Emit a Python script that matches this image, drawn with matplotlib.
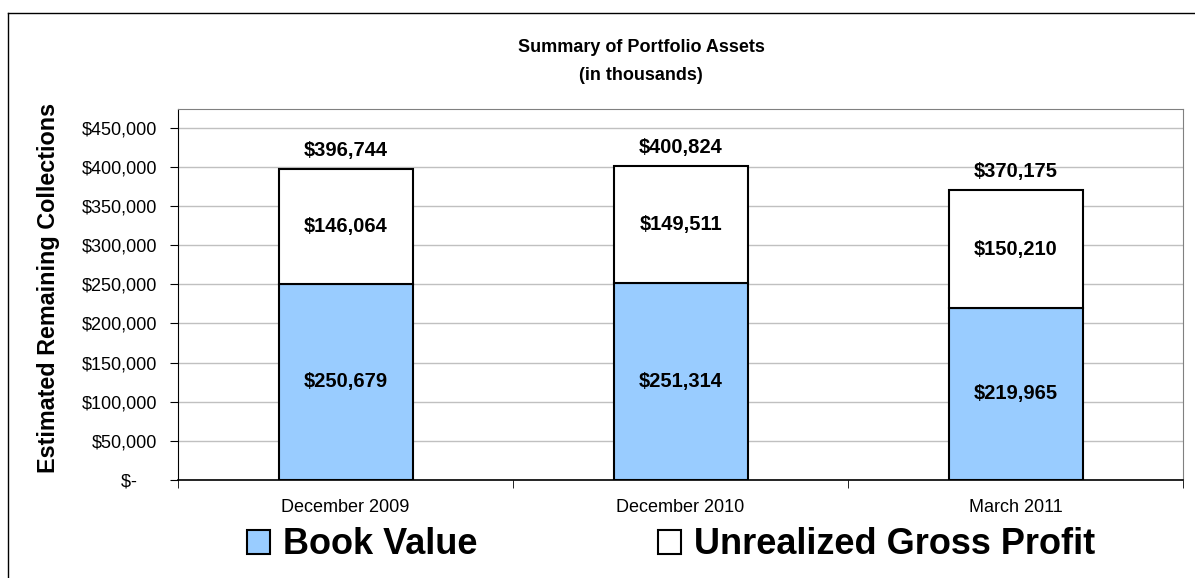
import matplotlib
matplotlib.use("Agg")
import matplotlib.pyplot as plt
from matplotlib.patches import Patch
from matplotlib.lines import Line2D
import numpy as np

plt.rcParams['font.family'] = ['Liberation Sans', 'DejaVu Sans']

categories = ['December 2009', 'December 2010', 'March 2011']
book_value = [250679, 251314, 219965]
unrealized = [146064, 149511, 150210]
totals = [396744, 400824, 370175]
yticks = [0, 50000, 100000, 150000, 200000, 250000, 300000, 350000, 400000, 450000]


def money(v):
    # excel accounting style: zero shows as a dash, padded on the right
    return '$-    ' if v == 0 else '${:,.0f}'.format(v)


fig = plt.figure(figsize=(11.95, 5.78), dpi=100)
ax = fig.add_axes([178 / 1195, 1 - 480 / 578, 1005 / 1195, 371 / 578])

x = np.arange(len(categories))
w = 0.4
ax.bar(x, book_value, w, color='#99CCFF', edgecolor='black', linewidth=1.5, zorder=3)
ax.bar(x, unrealized, w, bottom=book_value, color='white', edgecolor='black',
       linewidth=1.5, zorder=3)

for i in range(len(categories)):
    ax.text(x[i], book_value[i] / 2, money(book_value[i]), ha='center', va='center',
            fontsize=14.5, fontweight='bold', zorder=4)
    ax.text(x[i], book_value[i] + unrealized[i] / 2, money(unrealized[i]), ha='center',
            va='center', fontsize=14.5, fontweight='bold', zorder=4)
    ax.annotate(money(totals[i]), (x[i], totals[i]), xytext=(0, 7), textcoords='offset points',
                ha='center', va='bottom', fontsize=14.5, fontweight='bold', zorder=4)

ax.set_xlim(-0.5, len(categories) - 0.5)
ax.set_ylim(0, 474000)
ax.set_yticks(yticks)
ax.set_yticklabels([money(v) for v in yticks], fontsize=13)
ax.yaxis.grid(True, color='#c0c0c0', linewidth=1, zorder=0)
ax.set_xticks(x)
ax.set_xticklabels(categories, fontsize=13)
ax.tick_params(axis='x', length=0, pad=14)
ax.set_xticks(np.arange(-0.5, len(categories), 1), minor=True)
ax.tick_params(axis='x', which='minor', length=6, color='black', direction='out')
ax.tick_params(axis='y', length=6, color='black', direction='out', pad=9)

for s in ['top', 'right']:
    ax.spines[s].set_color('#808080')
ax.spines['left'].set_color('black')
ax.spines['bottom'].set_color('black')
ax.spines['bottom'].set_linewidth(1.2)

fig.text(49 / 1195, 1 - 288 / 578, 'Estimated Remaining Collections', rotation=90,
         ha='center', va='center', fontsize=16.8, fontweight='bold')

fig.text(641 / 1195, 1 - 47 / 578, 'Summary of Portfolio Assets', ha='center', va='center',
         fontsize=13, fontweight='bold')
fig.text(641 / 1195, 1 - 76 / 578, '(in thousands)', ha='center', va='center',
         fontsize=13, fontweight='bold')

# outer chart border
fig.add_artist(Line2D([8 / 1195, 8 / 1195], [0, 1 - 13 / 578], transform=fig.transFigure,
                      color='black', linewidth=1))
fig.add_artist(Line2D([8 / 1195, 1], [1 - 13 / 578, 1 - 13 / 578], transform=fig.transFigure,
                      color='black', linewidth=1))

handles = [Patch(facecolor='#99CCFF', edgecolor='black', linewidth=1.5),
           Patch(facecolor='white', edgecolor='black', linewidth=1.5)]
fig.legend(handles, ['Book Value', 'Unrealized Gross Profit'], loc='center',
           bbox_to_anchor=(671 / 1195, 1 - 545 / 578), ncol=2, frameon=False,
           prop={'size': 26, 'weight': 'bold'}, handlelength=0.65, handleheight=0.65,
           handletextpad=0.35, columnspacing=5.0, borderpad=0)

fig.savefig('out.png', dpi=100)
